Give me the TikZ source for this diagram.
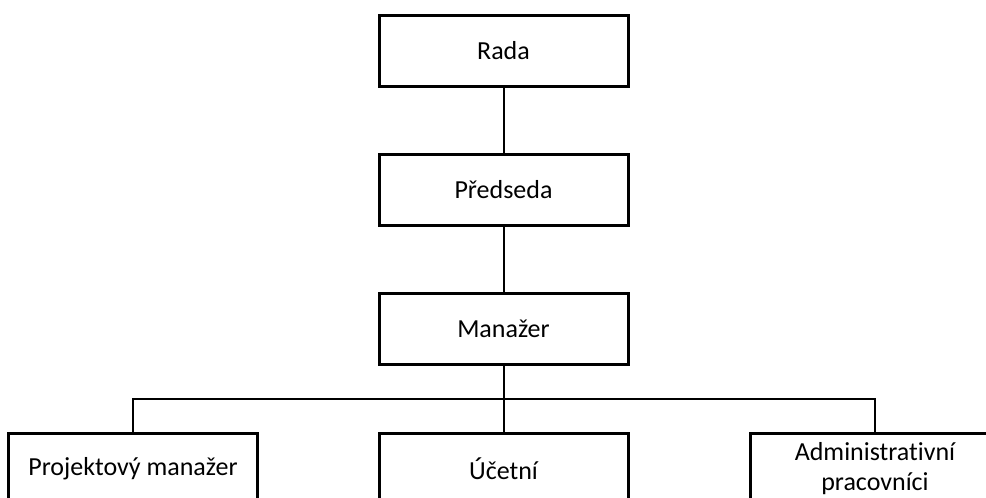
\documentclass[tikz,border=0pt]{standalone}
\usepackage{fontspec}
\setmainfont{Carlito}[Ligatures=NoCommon]
\usepackage{tikz}
\usetikzlibrary{positioning,calc}

\begin{document}
\begin{tikzpicture}[x=1pt,y=-1pt,
    box/.style={draw, line width=3pt, minimum width=249pt, minimum height=71pt,
        align=center, inner sep=0pt, font=\fontsize{26}{30}\selectfont},
    link/.style={line width=2pt}]
    \useasboundingbox (0,0) rectangle (986,498);
    \clip (0,0) rectangle (986,498);
    % top chain
    \node[box] (R) at (503.5,50.5) {Rada};
    \node[box] (P) at (503.5,190) {Předseda};
    \node[box] (M) at (503.5,328.5) {Manažer};
    % bottom row
    \node[box] (PM) at (133,468.5) {Projektový manažer};
    \node[box] (U) at (503.5,468.5) {Účetní};
    \node[box] (A) at (875,468.5) {Administrativní\\pracovníci};
    \coordinate (bus) at (503.5,399);
    \draw[link] (R) -- (P);
    \draw[link] (P) -- (M);
    \draw[link] (M) -- (U);
    \draw[link] (PM.north) -- (PM.north |- bus) -- (A.north |- bus) -- (A.north);
\end{tikzpicture}
\end{document}
